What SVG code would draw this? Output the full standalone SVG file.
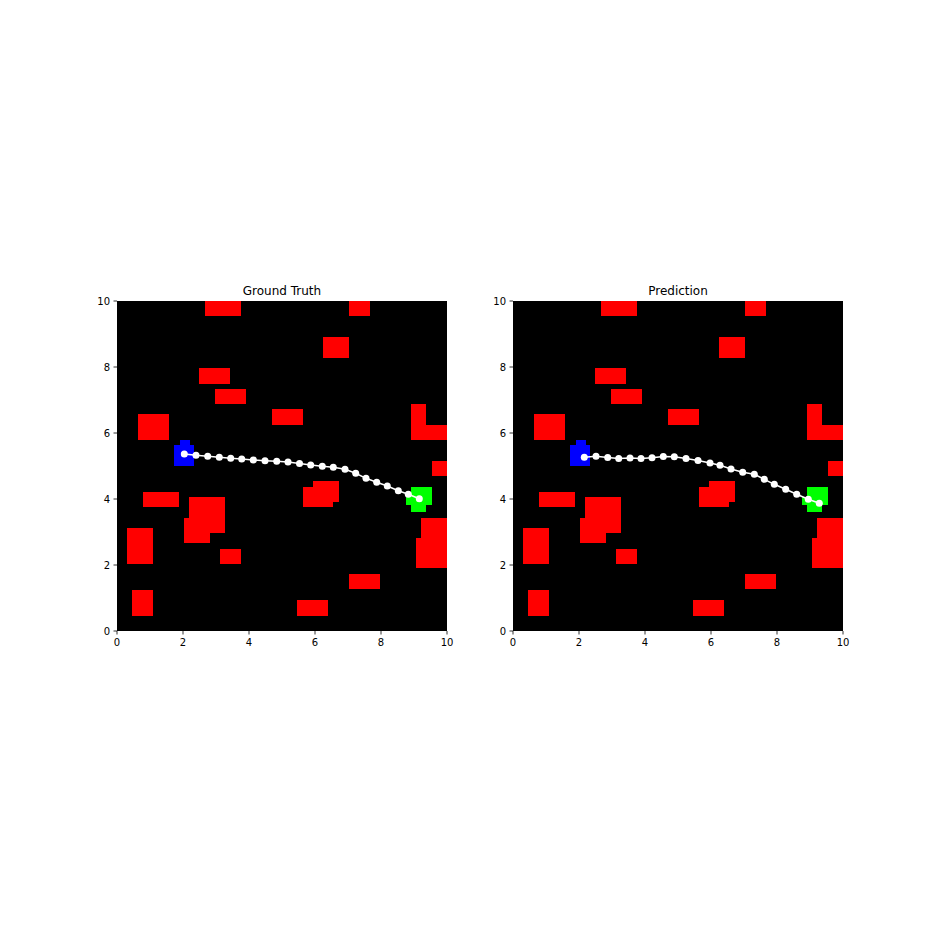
<svg xmlns="http://www.w3.org/2000/svg" xmlns:xlink="http://www.w3.org/1999/xlink" width="936" height="936" viewBox="0 0 936 936">
<style>
.t{font-family:"DejaVu Sans",sans-serif;font-size:10px;fill:#000}
.ti{font-family:"DejaVu Sans",sans-serif;font-size:12px;fill:#000;text-anchor:middle}
.obs{fill:#ff0000}
.tick{stroke:#000;stroke-width:0.8}
.path{fill:none;stroke:#fff;stroke-width:1.5}
.pt circle{fill:#fff;r:3.5px}
</style>
<defs>
<g id="obstacles">
<rect class="obs" x="205" y="301" width="36" height="15"/>
<rect class="obs" x="349" y="301" width="21" height="15"/>
<rect class="obs" x="323" y="337" width="26" height="21"/>
<rect class="obs" x="199" y="368" width="31" height="16"/>
<rect class="obs" x="215" y="389" width="31" height="15"/>
<rect class="obs" x="138" y="414" width="31" height="26"/>
<rect class="obs" x="272" y="409" width="31" height="16"/>
<rect class="obs" x="411" y="404" width="15" height="36"/>
<rect class="obs" x="411" y="425" width="36" height="15"/>
<rect class="obs" x="432" y="461" width="15" height="15"/>
<rect class="obs" x="313" y="481" width="26" height="21"/>
<rect class="obs" x="303" y="487" width="30" height="20"/>
<rect class="obs" x="143" y="492" width="36" height="15"/>
<rect class="obs" x="189" y="497" width="36" height="36"/>
<rect class="obs" x="184" y="518" width="26" height="25"/>
<rect class="obs" x="127" y="528" width="26" height="36"/>
<rect class="obs" x="220" y="549" width="21" height="15"/>
<rect class="obs" x="421" y="518" width="26" height="21"/>
<rect class="obs" x="416" y="538" width="31" height="30"/>
<rect class="obs" x="349" y="574" width="31" height="15"/>
<rect class="obs" x="132" y="590" width="21" height="26"/>
<rect class="obs" x="297" y="600" width="31" height="16"/>
</g>
<g id="start">
<rect x="180" y="440" width="10" height="6" fill="#0000ff"/>
<rect x="174" y="445" width="20" height="21" fill="#0000ff"/>
</g>
<g id="goal">
<rect x="411" y="487" width="21" height="18" fill="#00ff00"/>
<rect x="406" y="497" width="26" height="8" fill="#00ff00"/>
<rect x="411" y="505" width="15" height="7" fill="#00ff00"/>
</g>
<g id="axes">
<line class="tick" x1="117" y1="631" x2="117" y2="634.5"/>
<line class="tick" x1="183" y1="631" x2="183" y2="634.5"/>
<line class="tick" x1="249" y1="631" x2="249" y2="634.5"/>
<line class="tick" x1="315" y1="631" x2="315" y2="634.5"/>
<line class="tick" x1="381" y1="631" x2="381" y2="634.5"/>
<line class="tick" x1="447" y1="631" x2="447" y2="634.5"/>
<line class="tick" x1="113.5" y1="631" x2="117" y2="631"/>
<line class="tick" x1="113.5" y1="565" x2="117" y2="565"/>
<line class="tick" x1="113.5" y1="499" x2="117" y2="499"/>
<line class="tick" x1="113.5" y1="433" x2="117" y2="433"/>
<line class="tick" x1="113.5" y1="367" x2="117" y2="367"/>
<line class="tick" x1="113.5" y1="301" x2="117" y2="301"/>
<g class="t" text-anchor="middle">
<text x="117" y="646">0</text>
<text x="183" y="646">2</text>
<text x="249" y="646">4</text>
<text x="315" y="646">6</text>
<text x="381" y="646">8</text>
<text x="447" y="646">10</text>
</g>
<g class="t" text-anchor="end">
<text x="110" y="634.5">0</text>
<text x="110" y="568.5">2</text>
<text x="110" y="502.5">4</text>
<text x="110" y="436.5">6</text>
<text x="110" y="370.5">8</text>
<text x="110" y="304.5">10</text>
</g>
</g>
</defs>
<rect width="936" height="936" fill="#fff"/>

<g id="ground-truth">
<rect x="117" y="301" width="330" height="330" fill="#000"/>
<use xlink:href="#obstacles"/>
<use xlink:href="#start"/>
<use xlink:href="#goal"/>
<use xlink:href="#axes"/>
<text class="ti" x="282" y="295">Ground Truth</text>
</g>

<g id="prediction">
<rect x="513" y="301" width="330" height="330" fill="#000"/>
<use xlink:href="#obstacles" transform="translate(396,0)"/>
<use xlink:href="#start" transform="translate(396,0)"/>
<use xlink:href="#goal" transform="translate(396,0)"/>
<use xlink:href="#axes" transform="translate(396,0)"/>
<text class="ti" x="678" y="295">Prediction</text>
</g>

<g id="connectors">
<polyline class="path" points="184.3,454 196,455.3 207.7,456.3 219.3,457.3 230.7,458.3 241.7,459 253.3,460 265,460.7 276.7,461.3 288,462 299.5,463.5 310.7,465 322.3,466.3 333.3,467.3 345,469.3 355.7,473.3 366,478.3 376.7,482.3 387.3,486 398.3,490.7 408.3,494.3 419.3,498.7"/>
<g class="pt">
<circle cx="184.3" cy="454" r="3.5"/><circle cx="196" cy="455.3" r="3.5"/><circle cx="207.7" cy="456.3" r="3.5"/><circle cx="219.3" cy="457.3" r="3.5"/><circle cx="230.7" cy="458.3" r="3.5"/><circle cx="241.7" cy="459" r="3.5"/><circle cx="253.3" cy="460" r="3.5"/><circle cx="265" cy="460.7" r="3.5"/><circle cx="276.7" cy="461.3" r="3.5"/><circle cx="288" cy="462" r="3.5"/><circle cx="299.5" cy="463.5" r="3.5"/><circle cx="310.7" cy="465" r="3.5"/><circle cx="322.3" cy="466.3" r="3.5"/><circle cx="333.3" cy="467.3" r="3.5"/><circle cx="345" cy="469.3" r="3.5"/><circle cx="355.7" cy="473.3" r="3.5"/><circle cx="366" cy="478.3" r="3.5"/><circle cx="376.7" cy="482.3" r="3.5"/><circle cx="387.3" cy="486" r="3.5"/><circle cx="398.3" cy="490.7" r="3.5"/><circle cx="408.3" cy="494.3" r="3.5"/><circle cx="419.3" cy="498.7" r="3.5"/>
</g>
<polyline class="path" points="584.3,457.3 596,456.3 607.7,457.5 618.7,458.5 630,458 641,458.5 652,457.7 663.3,456.5 674.3,456.7 686,458.5 698,460.5 710,463 720,465.3 731,469 742.7,472.3 754.3,474.3 764.3,479.3 774.3,484.3 785.7,489.3 796.7,494.3 808.3,499.3 819.3,503.3"/>
<g class="pt">
<circle cx="584.3" cy="457.3" r="3.5"/><circle cx="596" cy="456.3" r="3.5"/><circle cx="607.7" cy="457.5" r="3.5"/><circle cx="618.7" cy="458.5" r="3.5"/><circle cx="630" cy="458" r="3.5"/><circle cx="641" cy="458.5" r="3.5"/><circle cx="652" cy="457.7" r="3.5"/><circle cx="663.3" cy="456.5" r="3.5"/><circle cx="674.3" cy="456.7" r="3.5"/><circle cx="686" cy="458.5" r="3.5"/><circle cx="698" cy="460.5" r="3.5"/><circle cx="710" cy="463" r="3.5"/><circle cx="720" cy="465.3" r="3.5"/><circle cx="731" cy="469" r="3.5"/><circle cx="742.7" cy="472.3" r="3.5"/><circle cx="754.3" cy="474.3" r="3.5"/><circle cx="764.3" cy="479.3" r="3.5"/><circle cx="774.3" cy="484.3" r="3.5"/><circle cx="785.7" cy="489.3" r="3.5"/><circle cx="796.7" cy="494.3" r="3.5"/><circle cx="808.3" cy="499.3" r="3.5"/><circle cx="819.3" cy="503.3" r="3.5"/>
</g>
</g>
</svg>
